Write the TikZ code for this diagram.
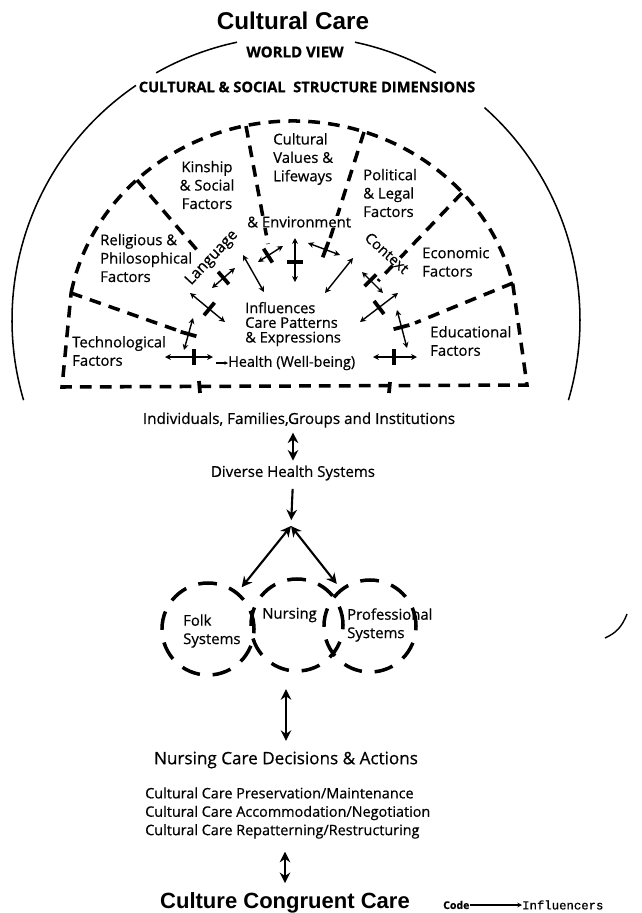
\documentclass[tikz,border=0pt]{standalone}
\usepackage{fontspec}
\setmainfont{Open Sans}[FakeBold=0.6]
\newfontfamily\headfont{Liberation Sans}
\newfontfamily\monofont{Liberation Mono}[FakeBold=0.8]
\usetikzlibrary{arrows.meta,calc}

\tikzset{
  sun/.style={line width=1.3pt},
  sector/.style={line width=3pt, dash pattern=on 10pt off 7pt},
  syscircle/.style={circle, draw, line width=3pt, dash pattern=on 16pt off 11pt, minimum size=2.76cm},
  influence/.style={>={Stealth[length=5pt,width=5pt]}, <->, line width=1.2pt},
  infbar/.style={line width=3.2pt},
  flow/.style={>={Stealth[length=9pt,width=9pt]}, line width=1.8pt},
  factor/.style={font=\fontsize{12.7}{15.7}\selectfont, align=left},
  big/.style={font=\headfont\bfseries\fontsize{18.8}{20}\selectfont},
}

\begin{document}
\begin{tikzpicture}[x=0.03cm, y=-0.03cm, every node/.style={inner sep=0pt}]
  \useasboundingbox (0,0) rectangle (642,913);

  % world view
  \coordinate (sun) at (296,320);
  \draw[sun] (sun) ++(-124.3:284) arc[start angle=-124.3, end angle=-196.4, radius=284];
  \draw[sun] (sun) ++(-119.5:284) arc[start angle=-119.5, end angle=-102, radius=284];
  \draw[sun] (sun) ++(-78:284) arc[start angle=-78, end angle=-60.5, radius=284];
  \draw[sun] (sun) ++(-48.4:284) arc[start angle=-48.4, end angle=16.4, radius=284];

  \node[big, font=\headfont\bfseries\fontsize{20.7}{22}\selectfont] (title) at (293,21) {Cultural Care};
  \node[font=\bfseries\fontsize{12.8}{13}\selectfont] (world) at (295,52) {WORLD VIEW};
  \node[font=\bfseries\fontsize{12.5}{13}\selectfont] (dims) at (307,87) {CULTURAL \& SOCIAL\ \ STRUCTURE DIMENSIONS};

  % factors
  \coordinate (hub) at (293,333);
  \draw[sector] (hub) ++(-169:226 and 212) arc[start angle=-169, end angle=-13.6, x radius=226, y radius=212]
    -- (527,385) -- (62,387) -- cycle;
  \foreach \a/\b in {{71,293}/{182,332}, {137,180}/{197,250}, {246,126}/{268,244},
                     {364,132}/{328,245}, {462,193}/{378,281}, {513,283}/{415,323}}
    \draw[sector] (\a) -- (\b);

  \node[factor, anchor=west] (tech) at (72,351) {Technological\\Factors};
  \node[factor, anchor=west] (relig) at (100,258) {Religious \&\\Philosophical\\Factors};
  \node[factor, align=center] (kin) at (207,185) {Kinship\\\& Social\\Factors};
  \node[factor, anchor=west] (values) at (273,159) {Cultural\\Values \&\\Lifeways};
  \node[factor, anchor=west] (polit) at (363,193) {Political\\\& Legal\\Factors};
  \node[factor, anchor=west] (econ) at (422,262) {Economic\\Factors};
  \node[factor, anchor=west] (educ) at (430,341) {Educational\\Factors};

  % care patterns
  \node[factor, anchor=west, font=\fontsize{12.5}{12.5}\selectfont] (care) at (245,324) {Influences\\Care Patterns\\\& Expressions};
  \node[factor, anchor=west, fill=white] (env) at (247,222) {\& Environment};
  \node[factor, anchor=west, font=\fontsize{12.3}{12.3}\selectfont] (health) at (228,363) {Health (Well-being)};
  \node[rotate=47, font=\fontsize{13}{13}\selectfont] (lang) at (212,258) {Language};
  \node[rotate=-42, fill=white, font=\fontsize{12.5}{12.5}\selectfont] (ctx) at (387,253) {Context};

  \foreach \a/\b/\t in {{165,357}/{213,357}/0.6, {193,318}/{184,350}/0.5, {190,293}/{225,322}/0.55,
                        {212,288}/{235,268}/0.5, {258,262}/{283,246}/0.4, {295,238}/{295,282}/0.55,
                        {308,243}/{340,255}/0.55, {362,272}/{383,293}/0.4, {360,322}/{398,293}/0.5,
                        {397,310}/{407,348}/0.45, {373,357}/{417,357}/0.48}{
    \draw[influence] (\a) -- (\b);
    \draw[infbar] ($(\a)!\t!(\b)!7pt!90:(\b)$) -- ($(\a)!\t!(\b)!7pt!-90:(\b)$);
  }
  \draw[influence] (243,255) -- (264,292);
  \draw[influence] (325,293) -- (353,258);
  \draw[infbar] (199,381) -- (200,393);
  \draw[infbar] (390,382) -- (389,393);
  \draw[-{Stealth[length=3pt,width=3pt]}, line width=1.2pt] (216,363) -- (health.west);

  % health systems
  \node[font=\fontsize{13}{13}\selectfont] (people) at (299,420) {Individuals, Families,Groups and Institutions};
  \node[font=\fontsize{12.8}{13}\selectfont] (diverse) at (293,473) {Diverse Health Systems};
  \draw[flow, <->, shorten <=4pt, shorten >=4pt] (diverse.north |- people.south) -- (diverse.north);
  \coordinate (fork) at (291,526);
  \draw[flow, ->, shorten <=7pt, shorten >=5pt] (diverse.south) -- (fork);

  \node[syscircle] (folkc) at (208,629) {};
  \node[syscircle] (nursc) at (297,625) {};
  \node[syscircle] (profc) at (370,626) {};
  \draw[flow, <->, shorten >=5pt] (fork) -- (folkc);
  \draw[flow, <->, shorten >=5pt] (fork) -- (profc);

  \node[factor, anchor=west] (folk) at (183,631) {Folk\\Systems};
  \node[factor, anchor=west] (nurs) at (262,615) {Nursing};
  \node[factor, anchor=west] (prof) at (347,625) {Professional\\Systems};

  % decisions
  \node[font=\fontsize{14.6}{15}\selectfont] (decide) at (286,760) {Nursing Care Decisions \& Actions};
  \draw[flow, <->, shorten <=14pt, shorten >=9pt] (decide.north |- nursc.south) -- (decide.north);
  \node[factor, anchor=west, font=\fontsize{12.3}{15.7}\selectfont] (modes) at (145,813) {Cultural Care Preservation/Maintenance\\Cultural Care Accommodation/Negotiation\\Cultural Care Repatterning/Restructuring};
  \node[big] (congruent) at (285,903) {Culture Congruent Care};
  \draw[flow, <->, shorten <=11pt, shorten >=8pt] (congruent.north |- modes.south) -- (congruent.north);

  \node[font=\bfseries\fontsize{9}{9}\selectfont, anchor=west] (code) at (443,905) {Code};
  \node[font=\monofont\fontsize{10.5}{10.5}\selectfont, anchor=west] (inflkey) at (522,905) {Influencers};
  \draw[-{Stealth[length=4pt,width=4pt]}, line width=1pt] (code) -- (inflkey);

  \draw[line width=1.2pt] (605,638) .. controls (616,633) and (622,627) .. (627,614);
\end{tikzpicture}
\end{document}
